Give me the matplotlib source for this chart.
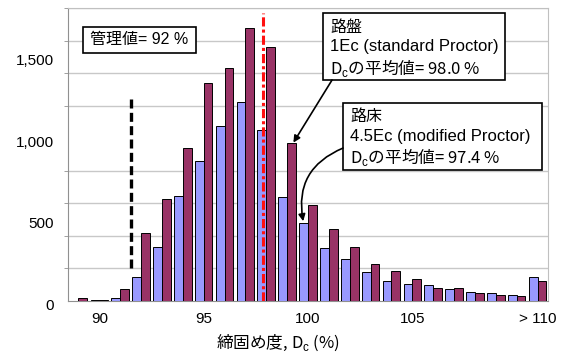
import numpy as np
import matplotlib
matplotlib.use('Agg')
import matplotlib.pyplot as plt
import matplotlib.transforms as mtransforms
from matplotlib.patches import Rectangle

plt.rcParams['font.family'] = ['Liberation Sans', 'Noto Sans CJK JP']
plt.rcParams['mathtext.fontset'] = 'custom'
plt.rcParams['mathtext.rm'] = 'Liberation Sans'

# 締固め度 bins 89 .. 110 and > 110
bins = ['89', '90', '91', '92', '93', '94', '95', '96', '97', '98', '99', '100',
        '101', '102', '103', '104', '105', '106', '107', '108', '109', '110', '> 110']
# 路床 4.5Ec (modified Proctor)
subgrade = [0, 5, 18, 148, 332, 646, 862, 1077, 1220, 1052, 638, 480,
            326, 258, 178, 123, 105, 98, 72, 55, 52, 37, 148]
# 路盤 1Ec (standard Proctor)
roadbed = [20, 8, 74, 420, 628, 940, 1342, 1434, 1680, 1563, 968, 591,
           443, 332, 225, 182, 135, 80, 80, 49, 37, 31, 120]
shown_ticks = ['90', '95', '100', '105', '> 110']
y_ticks = [0, 500, 1000, 1500]
y_labels = ['0', '500', '1,000', '1,500']
control_pos = 2.5      # 管理値 92 % (bar index coords)
mean_pos = 8.84        # 平均値 98.0 %

jp = ['Noto Sans CJK JP']

fig = plt.figure(figsize=(5.71, 3.58), dpi=100)
ax = fig.add_axes([68/571, 1-301/358, 480/571, 293/358])

x = np.arange(len(bins))
w = 0.42
ax.bar(x - w/2, subgrade, w, color='#9999ff', edgecolor='black', linewidth=0.7, zorder=3)
ax.bar(x + w/2, roadbed, w, color='#993366', edgecolor='black', linewidth=0.7, zorder=3)

ax.set_xlim(-0.5, len(bins) - 0.5)
ax.set_ylim(0, 1800)
ax.set_xticks([bins.index(t) for t in shown_ticks])
ax.set_xticklabels(shown_ticks, fontsize=11)
ax.set_yticks(y_ticks)
ax.set_yticklabels(y_labels, fontsize=11)
ax.set_yticks(np.arange(0, 1801, 200), minor=True)
ax.tick_params(axis='x', length=0, pad=8)
ax.tick_params(axis='y', which='major', length=0, pad=10)
ax.tick_params(axis='y', which='minor', length=3, color='#909090')
ax.grid(axis='y', which='minor', color='#c8c8c8', linewidth=1, zorder=0)
for s in ax.spines.values():
    s.set_color('#c0c0c0')
ax.spines['left'].set_color('#909090')
ax.spines['bottom'].set_color('#909090')

# labels sit a little below their gridlines in the original
shift = mtransforms.ScaledTranslation(0, -3/100, fig.dpi_scale_trans)
for lab in ax.get_yticklabels():
    lab.set_transform(lab.get_transform() + shift)

# control value and mean lines
ax.plot([control_pos, control_pos], [200, 1250], color='black', lw=2.4,
        linestyle=(0, (2.7, 1.3)), zorder=4)
ax.plot([mean_pos, mean_pos], [0, 1770], color='#ff1010', lw=2.2,
        linestyle=(0, (3, 1, 1, 1)), zorder=4)

# text boxes
ax.add_patch(Rectangle((0.031, 0.846), 0.236, 0.089, transform=ax.transAxes,
                       fc='white', ec='black', lw=1.2, zorder=5))
ax.text(0.046, 0.891, '管理値= 92 %', transform=ax.transAxes, va='center',
        fontsize=11.5, zorder=6)

ax.add_patch(Rectangle((0.531, 0.754), 0.379, 0.229, transform=ax.transAxes,
                       fc='white', ec='black', lw=1.2, zorder=5))
ax.text(0.546, 0.935, '路盤', transform=ax.transAxes, va='center', fontsize=11.5, zorder=6)
ax.text(0.546, 0.867, '1Ec (standard Proctor)', transform=ax.transAxes, va='center',
        fontsize=12, zorder=6)
ax.text(0.546, 0.795, 'D$_\\mathrm{c}$の平均値= 98.0 %', transform=ax.transAxes,
        va='center', fontsize=12, family=jp, zorder=6)

ax.add_patch(Rectangle((0.573, 0.447), 0.415, 0.229, transform=ax.transAxes,
                       fc='white', ec='black', lw=1.2, zorder=5))
ax.text(0.5875, 0.628, '路床', transform=ax.transAxes, va='center', fontsize=11.5, zorder=6)
ax.text(0.5875, 0.560, '4.5Ec (modified Proctor)', transform=ax.transAxes, va='center',
        fontsize=12, zorder=6)
ax.text(0.5875, 0.491, 'D$_\\mathrm{c}$の平均値= 97.4 %', transform=ax.transAxes,
        va='center', fontsize=12, family=jp, zorder=6)

# arrows
ax.annotate('', xy=(10.3, roadbed[10] + 5), xycoords='data',
            xytext=(0.55, 0.754), textcoords='axes fraction',
            arrowprops=dict(arrowstyle='-|>', color='black', lw=1.2,
                            mutation_scale=10, shrinkA=0, shrinkB=0), zorder=6)
ax.annotate('', xy=(10.77, subgrade[11] + 10), xycoords='data',
            xytext=(0.573, 0.522), textcoords='axes fraction',
            arrowprops=dict(arrowstyle='-|>', color='black', lw=1.2,
                            mutation_scale=10, shrinkA=0, shrinkB=0,
                            connectionstyle='arc3,rad=0.4'), zorder=6)

fig.text(278/571, 1-343/358, '締固め度, D$_\\mathrm{c}$ (%)', ha='center', va='center',
         fontsize=12, family=jp)

fig.savefig('out.png', dpi=100)
